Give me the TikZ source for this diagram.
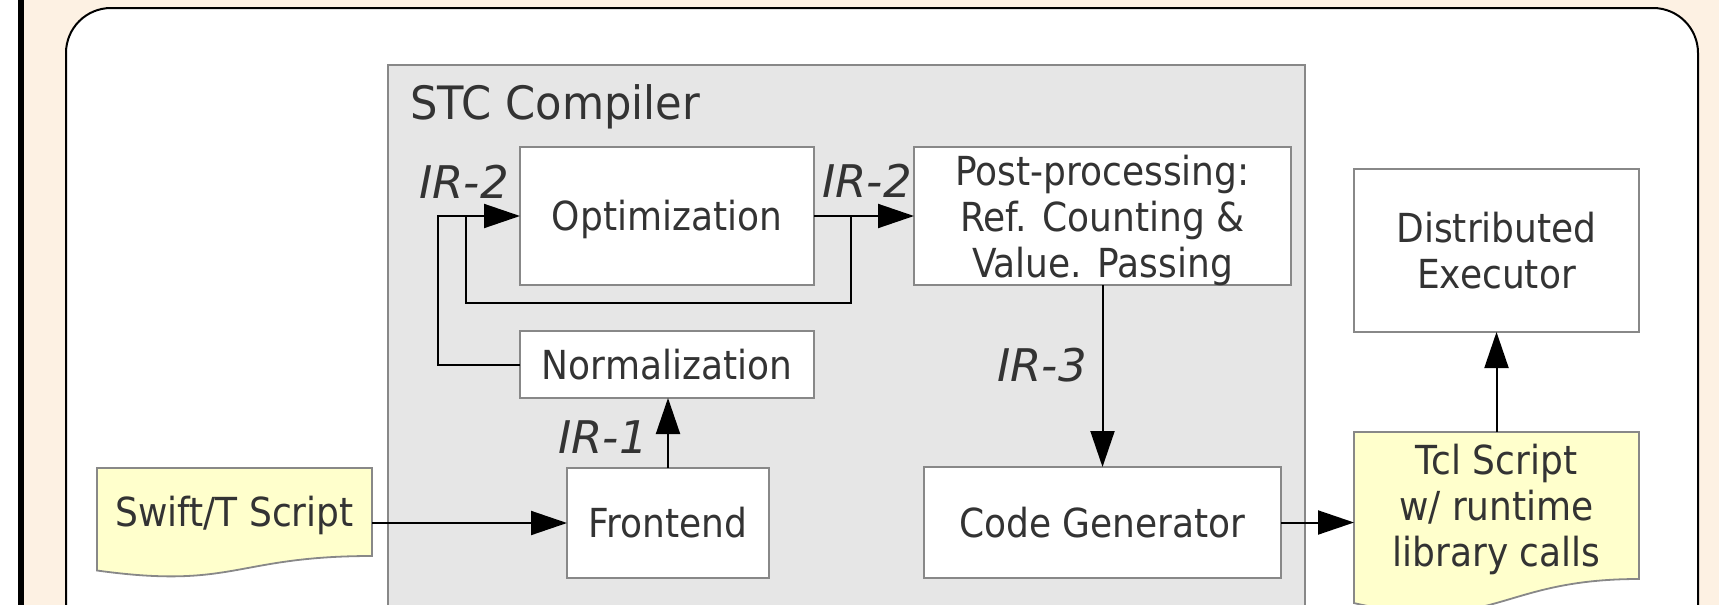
\documentclass[tikz,border=0pt]{standalone}
\usepackage{fontspec}
\setmainfont{DejaVu Sans}[FakeStretch=0.9]
\newfontfamily\titlefont{DejaVu Sans}[FakeStretch=0.94]
\newfontfamily\irfont{DejaVu Sans}
\usetikzlibrary{arrows.meta,calc}

\definecolor{pagecream}{RGB}{253,241,227}
\definecolor{panelfill}{RGB}{230,230,230}
\definecolor{edgegray}{RGB}{136,136,136}
\definecolor{notefill}{RGB}{255,255,204}
\definecolor{ink}{RGB}{51,51,51}

\tikzset{
  stagebox/.style={draw=edgegray, line width=0.9pt, fill=white, inner sep=0pt, outer sep=0pt,
    align=center, text=ink, font=\fontsize{20}{23}\selectfont},
  oneline/.style={text height=14.6pt, text depth=0pt},
  multiline/.style={text depth=0pt},
  holder/.style={inner sep=0pt, outer sep=0pt},
  notetext/.style={inner sep=0pt, align=center, text=ink, font=\fontsize{20}{23}\selectfont},
  noteshape/.style={draw=edgegray, line width=0.9pt, fill=notefill},
  irlabel/.style={inner sep=0pt, anchor=base west, text=ink, font=\irfont\fontsize{22.5}{27}\selectfont\itshape},
  flow/.style={line width=1pt, -{Triangle[length=18pt,width=12pt]}},
  loopline/.style={line width=1pt},
}

\begin{document}
\begin{tikzpicture}[x=0.5pt,y=-0.5pt]
\useasboundingbox (0,0) rectangle (1719,605);
\begin{scope}
\clip (0,0) rectangle (1719,605);

% page margin, rule and cream page
\fill[white] (0,0) rectangle (18,605);
\fill[black] (18,0) rectangle (24,605);
\fill[pagecream] (24,0) rectangle (1719,605);
\draw[line width=1pt, fill=white, rounded corners=22.5pt] (66,8) rectangle (1698,760);

% compiler panel
\node[draw=edgegray, line width=0.8pt, fill=panelfill, inner sep=0pt, outer sep=0pt,
      minimum width=458.5pt, minimum height=340pt, anchor=north west] (stc) at (388,65) {};
\node[inner sep=0pt, anchor=base west, text=ink, font=\titlefont\fontsize{23}{27}\selectfont]
      (stctitle) at (410,119) {STC Compiler};

% compiler stages
\node[stagebox, oneline, minimum width=147pt, minimum height=69pt] (opt) at (667,216) {Optimization};
\node[stagebox, oneline, minimum width=147pt, minimum height=33.5pt] (norm) at (667,364.5) {Normalization};
\node[stagebox, multiline, minimum width=188.5pt, minimum height=69pt] (post) at (1102.5,216)
      {Post-processing:\\Ref. Counting \&\\Value. Passing};
\node[stagebox, oneline, minimum width=101pt, minimum height=55pt] (front) at (668,523) {Frontend};
\node[stagebox, oneline, minimum width=178.5pt, minimum height=55.5pt] (codegen) at (1102.5,522.5) {Code Generator};

% runtime side
\node[stagebox, multiline, minimum width=142.5pt, minimum height=81.5pt] (exec) at (1496.5,250.5)
      {Distributed\\Executor};

% input script (document shape)
\node[holder, minimum width=137.5pt, minimum height=44pt, anchor=north west] (swift) at (97,468) {};
\draw[noteshape] (swift.north west) -- (swift.north east) -- (swift.south east)
  .. controls (swift.south) and ($(swift.south)+(0,33.6)$) .. ($(swift.south west)+(0,14.5)$) -- cycle;
\node[notetext, oneline] (swifttext) at (swift.center) {Swift/T Script};

% generated script (document shape)
\node[holder, minimum width=142.5pt, minimum height=73.5pt, anchor=north west] (tcl) at (1354,432) {};
\draw[noteshape] (tcl.north west) -- (tcl.north east) -- (tcl.south east)
  .. controls (tcl.south) and ($(tcl.south)+(0,55.9)$) .. ($(tcl.south west)+(0,24.1)$) -- cycle;
\node[notetext, multiline] (tcltext) at (tcl.center) {Tcl Script\\w/ runtime\\library calls};

% connectors
\draw[flow] (swift.east |- front.west) -- (front.west);
\draw[flow] (front.north) -- (front.north |- norm.south);
\draw[flow] (norm.west) -| ($(opt.west)+(-82,0)$) -- (opt.west);
\draw[loopline] ($(opt.east)+(37,0)$) -- ++(0,87) -| ($(opt.west)+(-54,0)$);
\draw[flow] (opt.east) -- (post.west);
\draw[flow] (post.south) -- (codegen.north);
\draw[flow] (codegen.east) -- (codegen.east -| tcl.west);
\draw[flow] (tcl.north) -- (exec.south);

% intermediate representation labels
\node[irlabel] (irtwoin) at (419,198) {IR-2};
\node[irlabel] (irtwoout) at (822,197) {IR-2};
\node[irlabel] (irone) at (558,453) {IR-1};
\node[irlabel] (irthree) at (997,381) {IR-3};

\end{scope}
\end{tikzpicture}
\end{document}
